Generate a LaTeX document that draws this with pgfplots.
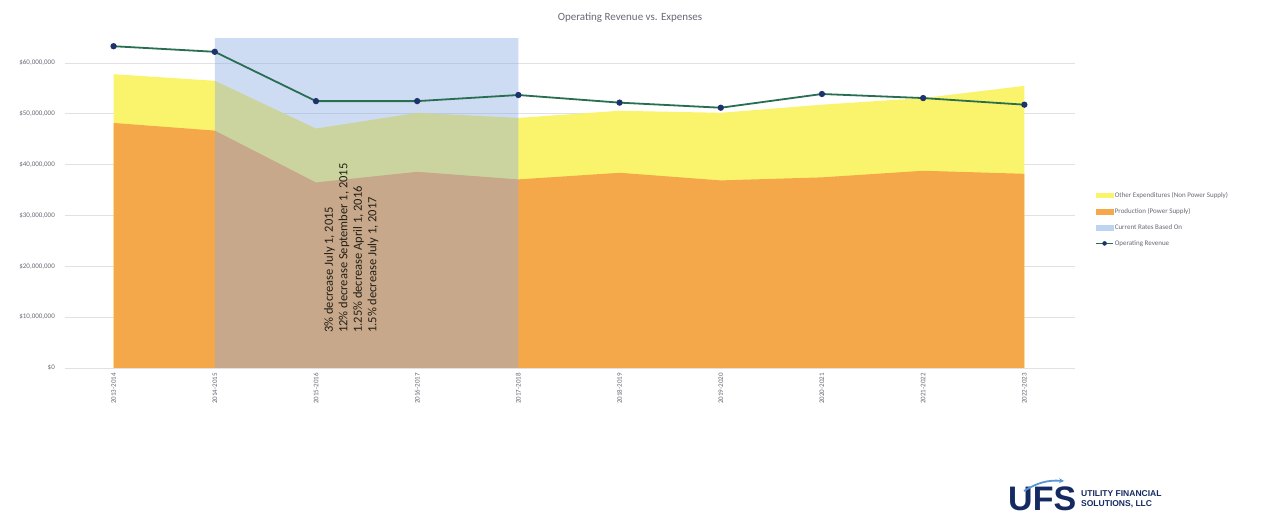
\documentclass[border=0pt]{standalone}
\usepackage{fontspec}
\setmainfont{Carlito}
\newfontfamily\logofont{Liberation Sans}
\usepackage{pgfplots}
\pgfplotsset{compat=1.18}
\usetikzlibrary{arrows.meta}
\definecolor{cOrange}{RGB}{244,168,74}
\definecolor{cYellow}{RGB}{250,244,108}
\definecolor{cBlue}{RGB}{138,170,228}
\definecolor{cBlueLeg}{RGB}{190,210,242}
\definecolor{cLine}{RGB}{40,110,80}
\definecolor{cDot}{RGB}{30,50,110}
\definecolor{cText}{RGB}{105,105,118}
\definecolor{cGrid}{RGB}{225,225,228}
\definecolor{cNavy}{RGB}{22,42,98}
\definecolor{cSwoosh}{RGB}{90,150,215}
\begin{document}
\begin{tikzpicture}[x=1pt,y=1pt]
\path[fill=white] (0pt,0pt) rectangle (1266pt,529pt);
\node[font=\fontsize{11}{13}\selectfont, text=cText] at (630pt,511.5pt) {Operating Revenue vs. Expenses};
\begin{axis}[
  at={(65pt,161pt)}, anchor=south west,
  scale only axis, width=1010pt, height=335.5pt,
  xmin=-0.48, xmax=9.5, ymin=0, ymax=66,
  axis line style={draw=none},
  major tick length=0pt,
  ymajorgrids, grid style={cGrid, line width=0.8pt},
  ytick={0,10,20,30,40,50,60},
  yticklabels={{\$0},{\$10,000,000},{\$20,000,000},{\$30,000,000},{\$40,000,000},{\$50,000,000},{\$60,000,000}},
  yticklabel style={font=\fontsize{7}{8}\selectfont, text=cText, inner sep=0pt, xshift=-10pt},
  xtick={0,1,2,3,4,5,6,7,8,9},
  xticklabels={2013-2014,2014-2015,2015-2016,2016-2017,2017-2018,2018-2019,2019-2020,2020-2021,2021-2022,2022-2023},
  xticklabel style={font=\fontsize{7}{8}\selectfont, text=cText, rotate=90, anchor=east, inner sep=0pt, xshift=-5pt},
  legend style={at={(1.017,0.443)}, anchor=west, draw=none, fill=none,
    font=\fontsize{7}{8}\selectfont, text=cText, row sep=7.5pt,
    nodes={inner sep=1pt}},
  legend cell align=left,
  clip=false,
]
% Other expenditures (top of stack = total expenses)
\addplot[draw=none, fill=cYellow, forget plot] coordinates {
  (0,57.8) (1,56.5) (2,47.1) (3,50.2) (4,49.2) (5,50.6) (6,50.2) (7,51.8) (8,53.1) (9,55.5)
} \closedcycle;
% Production (power supply)
\addplot[draw=none, fill=cOrange, forget plot] coordinates {
  (0,48.2) (1,46.7) (2,36.5) (3,38.6) (4,37.1) (5,38.4) (6,36.9) (7,37.5) (8,38.8) (9,38.2)
} \closedcycle;
% Current rates based on
\addplot[draw=none, fill=cBlue, fill opacity=0.42, forget plot] coordinates {
  (1,0) (1,64.9) (2,64.9) (3,64.9) (4,64.9) (4,0)
} -- cycle;
% Operating revenue
\addplot[cLine, line width=1.8pt, mark=*, mark size=2.2pt, mark options={fill=cDot, draw=cDot}, forget plot] coordinates {
  (0,63.3) (1,62.2) (2,52.5) (3,52.5) (4,53.7) (5,52.2) (6,51.2) (7,53.9) (8,53.1) (9,51.8)
};
\addlegendimage{legend image code/.code={\fill[cYellow] (0pt,-2.2pt) rectangle (17pt,2.2pt);}}
\addlegendentry{Other Expenditures (Non Power Supply)}
\addlegendimage{legend image code/.code={\fill[cOrange] (0pt,-2.2pt) rectangle (17pt,2.2pt);}}
\addlegendentry{Production (Power Supply)}
\addlegendimage{legend image code/.code={\fill[cBlueLeg] (0pt,-2.2pt) rectangle (17pt,2.2pt);}}
\addlegendentry{Current Rates Based On}
\addlegendimage{legend image code/.code={\draw[cLine, line width=1.5pt] (0pt,0pt) -- (17pt,0pt); \fill[cDot] (8.5pt,0pt) circle (2pt);}}
\addlegendentry{Operating Revenue}
\end{axis}
\node[rotate=90, anchor=north west, align=left, inner sep=0pt, text={rgb,255:red,35;green,30;blue,22},
  font=\fontsize{12.5}{14.5}\selectfont] at (324pt,196pt) {3\% decrease July 1, 2015\\12\% decrease September 1, 2015\\1.25\% decrease April 1, 2016\\1.5\% decrease July 1, 2017};
% logo
\node[anchor=west, inner sep=0pt, text=cNavy, font=\logofont\bfseries\fontsize{34}{34}\selectfont] at (1008pt,30pt) {UFS};
\node[anchor=west, inner sep=0pt, align=left, text=cNavy, font=\logofont\bfseries\fontsize{8.5}{10.5}\selectfont] at (1081pt,30pt) {UTILITY FINANCIAL\\SOLUTIONS, LLC};
\draw[cSwoosh, line width=1.8pt, -{Stealth[length=5pt,width=5pt]}] (1024pt,38pt) to[bend left=18] (1064pt,48pt);
\end{tikzpicture}
\end{document}
